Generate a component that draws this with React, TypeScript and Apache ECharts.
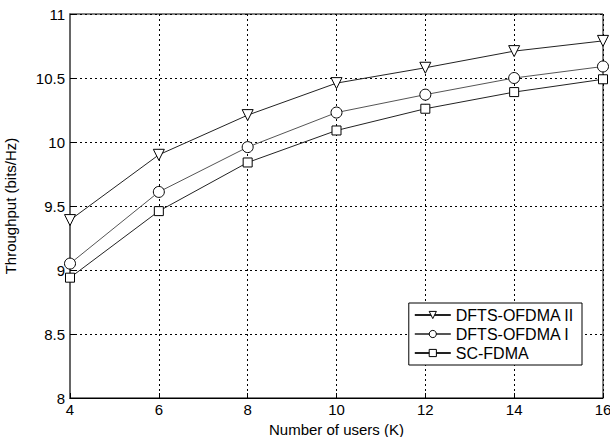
import React, { useEffect, useRef } from "react";
import * as echarts from "echarts";

const users = [4, 6, 8, 10, 12, 14, 16];
const dftsII = [9.39, 9.9, 10.21, 10.46, 10.58, 10.71, 10.79];
const dftsI = [9.05, 9.61, 9.96, 10.23, 10.37, 10.5, 10.59];
const scfdma = [8.94, 9.46, 9.84, 10.09, 10.26, 10.39, 10.49];
const seriesNames = ["DFTS-OFDMA II", "DFTS-OFDMA I", "SC-FDMA"];

export default function App() {
  const ref = useRef<HTMLDivElement>(null);
  useEffect(() => {
    if (!ref.current) return;
    const chart = echarts.init(ref.current, null, { renderer: "svg" });
    const font = "Liberation Sans";
    const fs = 15;
    const mk = (vals: number[]) => users.map((u, i) => [u, vals[i]]);
    const gridLine = { show: true, lineStyle: { color: "#000", type: [2, 3], width: 1 } };
    chart.setOption({
      animation: false,
      backgroundColor: "#fff",
      grid: {
        left: 70,
        right: 7,
        top: 14,
        bottom: 39,
        show: true,
        borderColor: "#000",
        borderWidth: 1,
        containLabel: false,
        outerBoundsMode: "none",
      },
      xAxis: {
        type: "value",
        min: 4,
        max: 16,
        interval: 2,
        name: "Number of users (K)",
        nameLocation: "middle",
        nameGap: 23,
        nameTextStyle: { fontFamily: font, fontSize: fs, color: "#000" },
        axisLine: { show: true, lineStyle: { color: "#000", width: 1 } },
        axisTick: { show: true, inside: true, length: 5, lineStyle: { color: "#000" } },
        axisLabel: { fontFamily: font, fontSize: fs, color: "#000", margin: 4 },
        splitLine: gridLine,
      },
      yAxis: {
        type: "value",
        min: 8,
        max: 11,
        interval: 0.5,
        name: "Throughput (bits/Hz)",
        nameLocation: "middle",
        nameGap: 52,
        nameTextStyle: { fontFamily: font, fontSize: fs, color: "#000" },
        axisLine: { show: true, lineStyle: { color: "#666", width: 2 } },
        axisTick: { show: true, inside: true, length: 5, lineStyle: { color: "#000" } },
        axisLabel: { fontFamily: font, fontSize: fs, color: "#000", margin: 5 },
        splitLine: gridLine,
      },
      legend: {
        orient: "vertical",
        right: 28,
        top: 303,
        itemWidth: 36,
        itemHeight: 9,
        itemGap: 3,
        padding: [4, 8, 4, 5],
        backgroundColor: "#fff",
        borderColor: "#000",
        borderWidth: 1,
        borderRadius: 0,
        itemStyle: { color: "#fff", borderColor: "#000", borderWidth: 1 },
        textStyle: { fontFamily: font, fontSize: 16, color: "#000" },
        data: seriesNames,
      },
      series: [
        {
          name: seriesNames[0],
          type: "line",
          data: mk(dftsII),
          symbol: "triangle",
          symbolRotate: 180,
          symbolSize: 11,
          lineStyle: { color: "#222", width: 1 },
          itemStyle: { color: "#fff", borderColor: "#000", borderWidth: 1 },
        },
        {
          name: seriesNames[1],
          type: "line",
          data: mk(dftsI),
          symbol: "circle",
          symbolSize: 11,
          lineStyle: { color: "#555", width: 1 },
          itemStyle: { color: "#fff", borderColor: "#000", borderWidth: 1 },
        },
        {
          name: seriesNames[2],
          type: "line",
          data: mk(scfdma),
          symbol: "rect",
          symbolSize: 9,
          lineStyle: { color: "#222", width: 1 },
          itemStyle: { color: "#fff", borderColor: "#000", borderWidth: 1 },
        },
      ],
    });
    return () => chart.dispose();
  }, []);
  return <div ref={ref} style={{ width: 610, height: 437, position: "absolute", left: 0, top: 0 }} />;
}
